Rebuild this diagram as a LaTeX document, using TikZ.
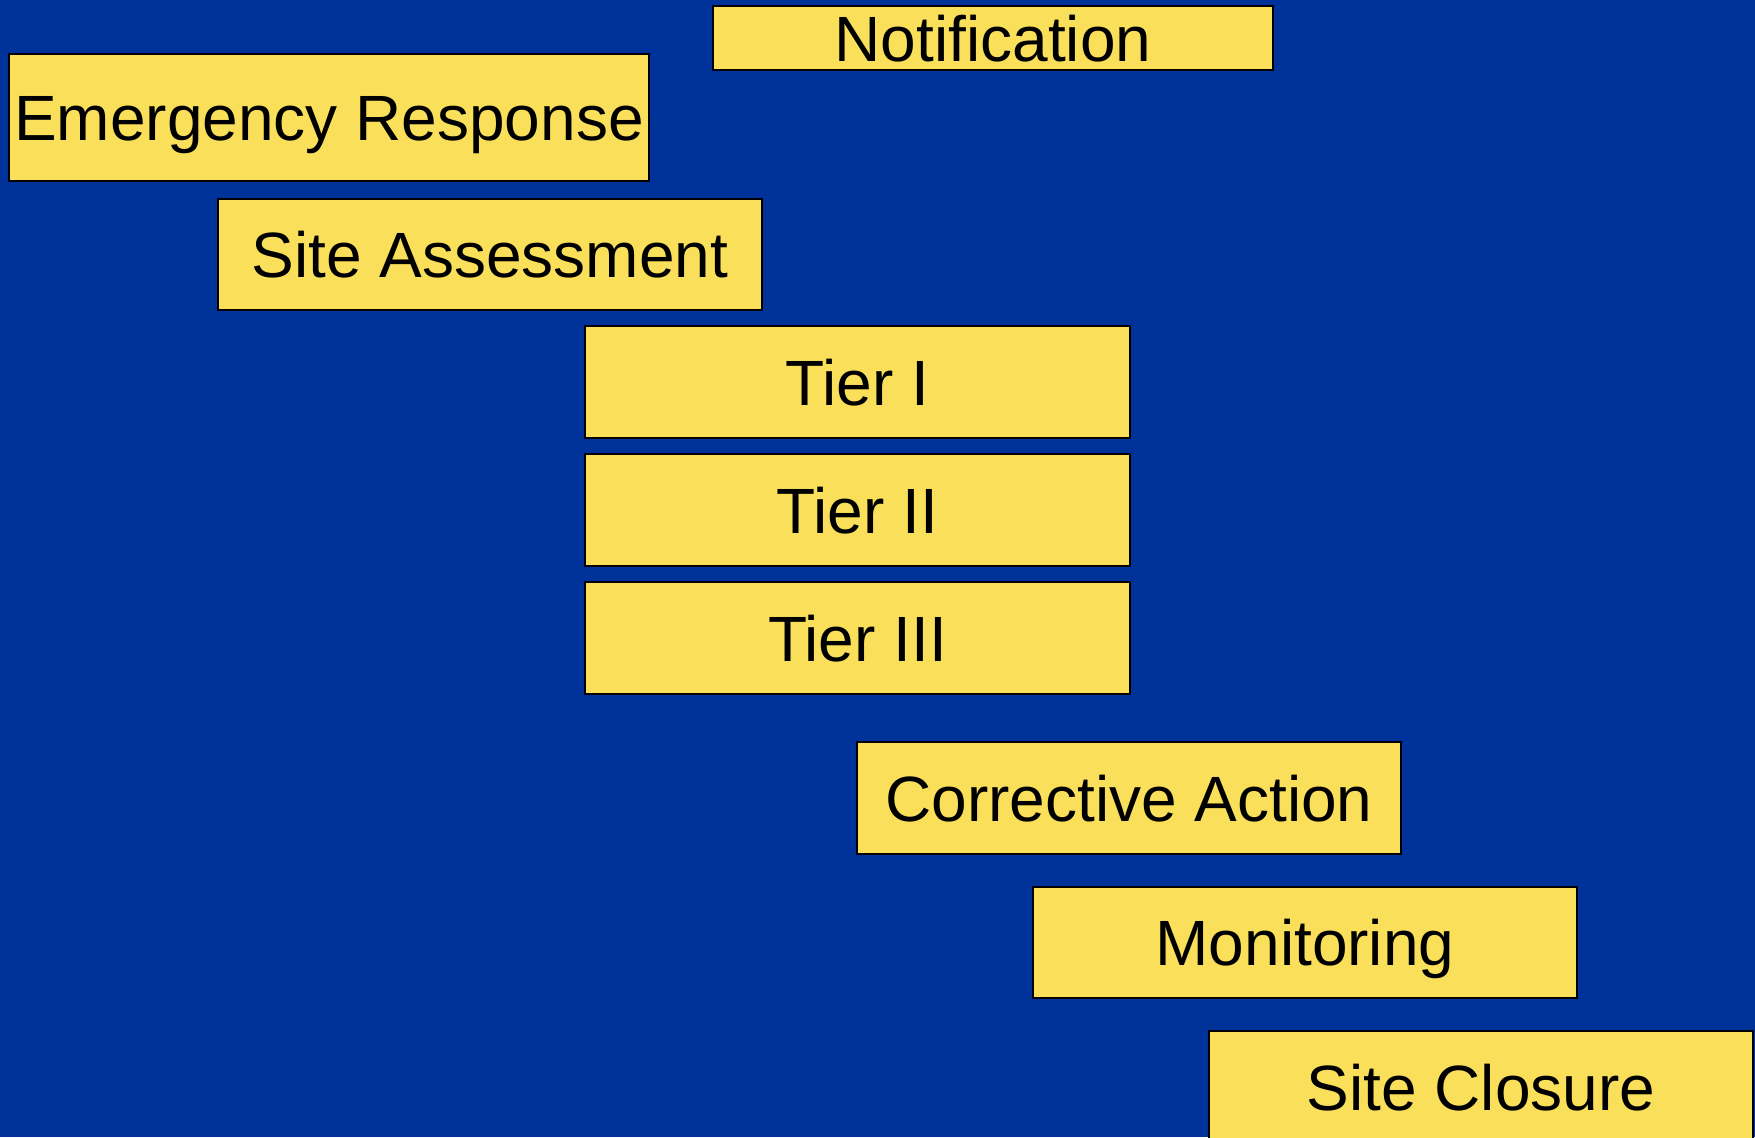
\documentclass[tikz,border=0pt]{standalone}
\usepackage{fontspec}
\setmainfont{Liberation Sans}
\definecolor{bgblue}{RGB}{0,51,153}
\definecolor{boxyellow}{RGB}{250,224,90}
\begin{document}
\begin{tikzpicture}[x=1bp,y=-1bp,
  stage/.style={draw=black, line width=2bp, fill=boxyellow, inner sep=0pt,
    text height=46bp, text depth=0pt, font=\fontsize{64bp}{77bp}\selectfont,
    minimum width=#1},
  stage/.default=544bp]
\fill[bgblue] (0,0) rectangle (1755,1137);
\useasboundingbox (0,0) rectangle (1755,1137);
\node[stage=560bp, minimum height=64bp] (notif) at (993,38) {Notification};
\node[stage=640bp, minimum height=127bp] (emerg) at (329,117.5) {Emergency Response};
\node[stage=544bp, minimum height=111bp] (assess) at (490,254.5) {Site Assessment};
\node[stage=545bp, minimum height=112bp] (tier1) at (857.5,382) {Tier I};
\node[stage=545bp, minimum height=112bp] (tier2) at (857.5,510) {Tier II};
\node[stage=545bp, minimum height=112bp] (tier3) at (857.5,638) {Tier III};
\node[stage=544bp, minimum height=112bp] (corr) at (1129,798) {Corrective Action};
\node[stage=544bp, minimum height=111bp] (monit) at (1305,942.5) {Monitoring};
\node[stage=544bp, minimum height=112bp] (closure) at (1481,1087) {Site Closure};
\end{tikzpicture}
\end{document}
